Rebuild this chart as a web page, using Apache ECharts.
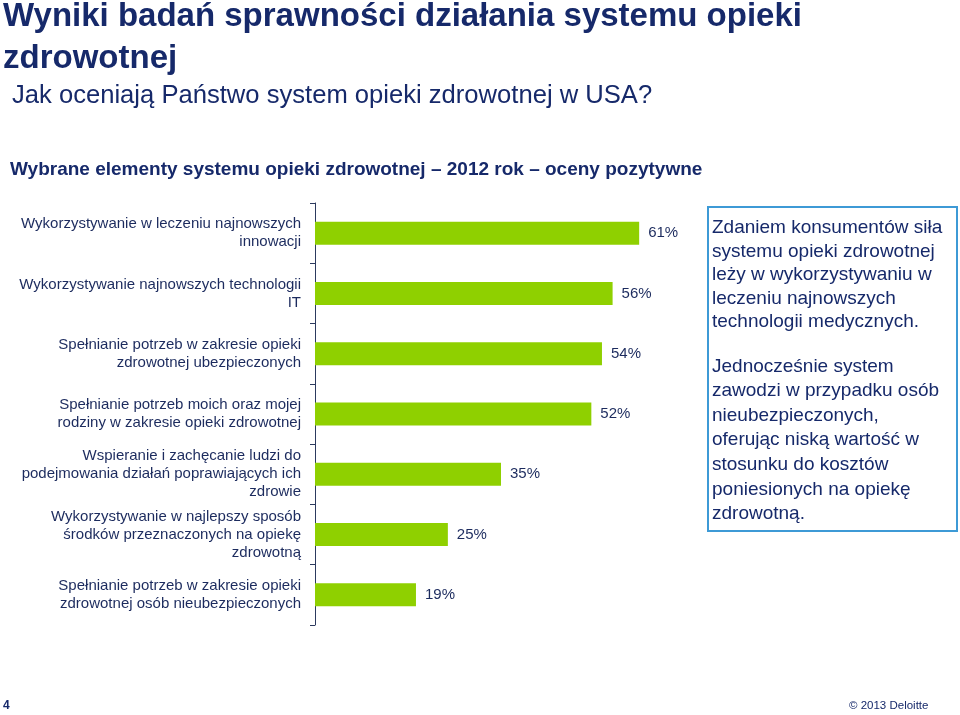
<!DOCTYPE html>
<html>
<head>
<meta charset="utf-8">
<script src="https://cdn.jsdelivr.net/npm/echarts@6/dist/echarts.min.js"></script>
<style>
html,body{margin:0;padding:0;background:#fff;}
#chart{width:960px;height:715px;}
</style>
</head>
<body>
<div id="chart"></div>
<script>
var categories = [
  "Wykorzystywanie w leczeniu najnowszych\ninnowacji",
  "Wykorzystywanie najnowszych technologii\nIT",
  "Spełnianie potrzeb w zakresie opieki\nzdrowotnej ubezpieczonych",
  "Spełnianie potrzeb moich oraz mojej\nrodziny w zakresie opieki zdrowotnej",
  "Wspieranie i zachęcanie ludzi do\npodejmowania działań poprawiających ich\nzdrowie",
  "Wykorzystywanie w najlepszy sposób\nśrodków przeznaczonych na opiekę\nzdrowotną",
  "Spełnianie potrzeb w zakresie opieki\nzdrowotnej osób nieubezpieczonych"
];
var values = [61, 56, 54, 52, 35, 25, 19];

var titleText = "Wyniki badań sprawności działania systemu opieki\nzdrowotnej";
var subtitleText = "Jak oceniają Państwo system opieki zdrowotnej w USA?";
var sectionText = "Wybrane elementy systemu opieki zdrowotnej – 2012 rok – oceny pozytywne";
var boxPara1 = "Zdaniem konsumentów siła\nsystemu opieki zdrowotnej\nleży w wykorzystywaniu w\nleczeniu najnowszych\ntechnologii medycznych.";
var boxPara2 = "Jednocześnie system\nzawodzi w przypadku osób\nnieubezpieczonych,\noferując niską wartość w\nstosunku do kosztów\nponiesionych na opiekę\nzdrowotną.";
var pageNumber = "4";
var copyright = "© 2013 Deloitte";

var FONT = "'Liberation Sans', Arial, sans-serif";
var NAVY = "#16296a";
var TEXT = "#1c2b5e";

var chart = echarts.init(document.getElementById('chart'), null, {renderer: 'canvas'});
chart.setOption({
  backgroundColor: '#ffffff',
  animation: false,
  grid: {left: 315, right: 273, top: 203, bottom: 90, containLabel: false},
  xAxis: {
    type: 'value', min: 0, max: 70, show: false
  },
  yAxis: {
    type: 'category',
    data: categories,
    inverse: true,
    boundaryGap: true,
    axisLine: {show: true, lineStyle: {color: '#2c3a5e', width: 1}},
    axisTick: {show: true, length: 5, inside: false, lineStyle: {color: '#2c3a5e'}},
    splitLine: {show: false},
    axisLabel: {
      margin: 14,
      align: 'right',
      fontFamily: FONT,
      fontSize: 15,
      lineHeight: 18,
      color: TEXT
    }
  },
  series: [{
    type: 'bar',
    data: values,
    barWidth: 23,
    itemStyle: {color: '#8fd000'},
    label: {
      show: true,
      position: 'right',
      distance: 9,
      formatter: '{c}%',
      fontFamily: FONT,
      fontSize: 15,
      color: TEXT
    }
  }],
  graphic: [
    {type: 'text', x: 3, y: -4, style: {text: titleText, font: "bold 33px " + FONT, fill: NAVY, lineHeight: 42, textVerticalAlign: 'top'}},
    {type: 'text', x: 12, y: 83, style: {text: subtitleText, font: "25.6px " + FONT, fill: NAVY, textVerticalAlign: 'top'}},
    {type: 'text', x: 10, y: 160, style: {text: sectionText, font: "bold 19px " + FONT, fill: NAVY, textVerticalAlign: 'top'}},
    {type: 'rect', shape: {x: 708, y: 207, width: 249, height: 324}, style: {fill: '#ffffff', stroke: '#3d9ad6', lineWidth: 2}},
    {type: 'text', x: 712, y: 216, style: {text: boxPara1, font: "19px " + FONT, fill: NAVY, lineHeight: 23.6, textVerticalAlign: 'top'}},
    {type: 'text', x: 712, y: 354, style: {text: boxPara2, font: "19px " + FONT, fill: NAVY, lineHeight: 24.6, textVerticalAlign: 'top'}},
    {type: 'text', x: 3, y: 700, style: {text: pageNumber, font: "bold 12px " + FONT, fill: NAVY, textVerticalAlign: 'top'}},
    {type: 'text', x: 849, y: 700, style: {text: copyright, font: "11.5px " + FONT, fill: NAVY, textVerticalAlign: 'top'}}
  ]
});
</script>
</body>
</html>
